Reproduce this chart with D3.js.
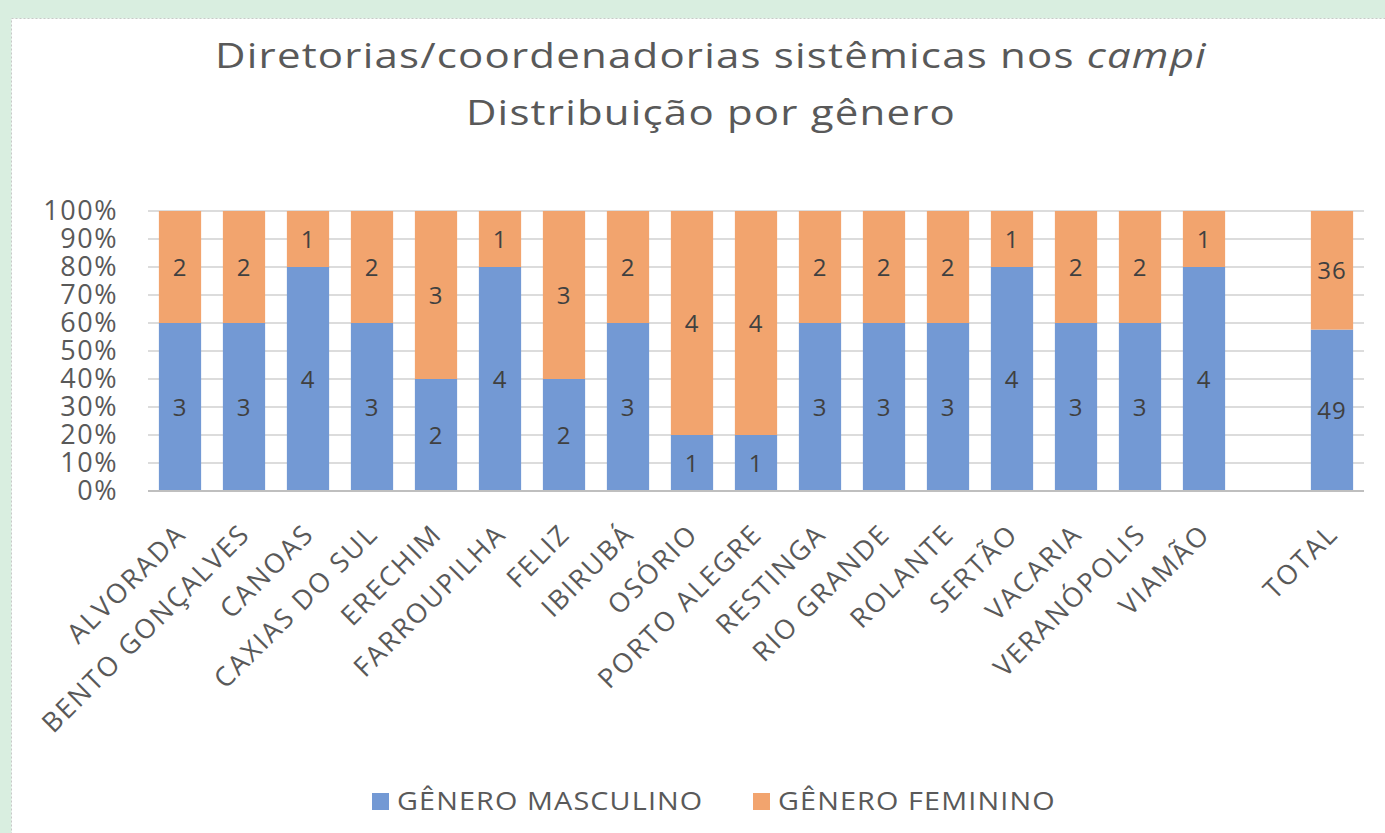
<!DOCTYPE html>
<html>
<head>
<meta charset="utf-8">
<script src="https://cdn.jsdelivr.net/npm/d3@7"></script>
<style>
  body { margin: 0; background: #d9eee0; }
  svg { display: block; }
</style>
</head>
<body>
<svg id="chart"></svg>
<script>
const width = 1385;
const height = 833;

// data
const campi = ["ALVORADA", "BENTO GONÇALVES", "CANOAS", "CAXIAS DO SUL", "ERECHIM",
  "FARROUPILHA", "FELIZ", "IBIRUBÁ", "OSÓRIO", "PORTO ALEGRE", "RESTINGA",
  "RIO GRANDE", "ROLANTE", "SERTÃO", "VACARIA", "VERANÓPOLIS", "VIAMÃO", "", "TOTAL"];
const masculino = [3, 3, 4, 3, 2, 4, 2, 3, 1, 1, 3, 3, 3, 4, 3, 3, 4, null, 49];
const feminino  = [2, 2, 1, 2, 3, 1, 3, 2, 4, 4, 2, 2, 2, 1, 2, 2, 1, null, 36];
const series = ["GÊNERO MASCULINO", "GÊNERO FEMININO"];
const yTicks = [0, 0.1, 0.2, 0.3, 0.4, 0.5, 0.6, 0.7, 0.8, 0.9, 1];
const colors = ['#7399d4', '#f2a46e'];

const svg = d3.select('#chart').attr('width', width).attr('height', height);

// chart area
svg.append('rect')
  .attr('x', 11.5).attr('y', 18.5)
  .attr('width', width).attr('height', height)
  .attr('fill', '#fff')
  .attr('stroke', '#c8c8c8')
  .attr('stroke-dasharray', '2,2');

const font = "'Open Sans', 'Noto Sans', sans-serif";

// title (stretched a little, like the source)
const title = svg.append('text')
  .attr('transform', 'translate(711,68) scale(1.2,1)')
  .attr('text-anchor', 'middle')
  .style('font-family', font).style('font-size', '35px')
  .style('letter-spacing', '1px')
  .style('fill', '#595959');
title.append('tspan').text('Diretorias/coordenadorias sistêmicas nos ');
title.append('tspan').style('font-style', 'italic').text('campi');
svg.append('text')
  .attr('transform', 'translate(711,125) scale(1.2,1)')
  .attr('text-anchor', 'middle')
  .style('font-family', font).style('font-size', '35px')
  .style('letter-spacing', '1px')
  .style('fill', '#595959')
  .text('Distribuição por gênero');

const margin = { left: 148, right: 21, top: 211, bottom: 342 };
const x = d3.scaleBand()
  .domain(d3.range(campi.length))
  .range([margin.left, width - margin.right])
  .paddingInner(0.34).paddingOuter(0.17);
const y = d3.scaleLinear().domain([0, 1]).range([height - margin.bottom, margin.top]);

// gridlines
svg.append('g').selectAll('line')
  .data(yTicks.slice(1))
  .join('line')
  .attr('x1', margin.left).attr('x2', width - margin.right)
  .attr('y1', d => y(d)).attr('y2', d => y(d))
  .attr('stroke', '#dcdcdc').attr('stroke-width', 2);

// y axis labels
const yAxis = svg.append('g')
  .attr('transform', `translate(${margin.left - 30},0)`)
  .call(d3.axisLeft(y).tickValues(yTicks).tickFormat(d3.format('.0%')).tickSize(0).tickPadding(0));
yAxis.select('.domain').remove();
yAxis.selectAll('text')
  .style('font-family', font).style('font-size', '27px')
  .style('letter-spacing', '1.5px')
  .style('fill', '#595959');

// stacked data
const rows = campi.map((c, i) => ({ i, m: masculino[i], f: feminino[i] }))
  .filter(d => d.m !== null);

rows.forEach(d => {
  const t = d.m + d.f;
  d.parts = [
    { k: 0, v: d.m, y0: 0, y1: d.m / t },
    { k: 1, v: d.f, y0: d.m / t, y1: 1 }
  ];
});

const bars = svg.append('g').selectAll('g')
  .data(rows)
  .join('g');

bars.selectAll('rect')
  .data(d => d.parts.map(p => ({ ...p, i: d.i })))
  .join('rect')
  .attr('x', d => x(d.i))
  .attr('width', x.bandwidth())
  .attr('y', d => y(d.y1))
  .attr('height', d => y(d.y0) - y(d.y1))
  .attr('fill', d => colors[d.k]);

bars.selectAll('text')
  .data(d => d.parts.map(p => ({ ...p, i: d.i })))
  .join('text')
  .attr('x', d => x(d.i) + x.bandwidth() / 2)
  .attr('y', d => y((d.y0 + d.y1) / 2))
  .attr('dy', '0.36em')
  .attr('text-anchor', 'middle')
  .style('font-family', font).style('font-size', '24px')
  .style('letter-spacing', '1px')
  .style('fill', '#404040')
  .text(d => d.v);

// baseline
svg.append('line')
  .attr('x1', margin.left).attr('x2', width - margin.right)
  .attr('y1', y(0)).attr('y2', y(0))
  .attr('stroke', '#bfbfbf').attr('stroke-width', 2);

// x labels
svg.append('g').selectAll('text')
  .data(campi.map((c, i) => ({ c, i })).filter(d => d.c))
  .join('text')
  .attr('transform', d => `translate(${x(d.i) + x.bandwidth() / 2 + 1},${y(0) + 38}) rotate(-45)`)
  .attr('text-anchor', 'end')
  .attr('dy', '0.35em')
  .style('font-family', font).style('font-size', '27px')
  .style('letter-spacing', '2px')
  .style('fill', '#595959')
  .text(d => d.c);

// legend
const legend = svg.append('g').selectAll('g')
  .data(series)
  .join('g')
  .attr('transform', (d, i) => `translate(${[372, 753][i]},801)`);
legend.append('rect')
  .attr('x', 0).attr('y', -8).attr('width', 17).attr('height', 17)
  .attr('fill', (d, i) => colors[i]);
legend.append('text')
  .attr('transform', 'translate(25,0) scale(1.15,1)')
  .attr('dy', '0.36em')
  .style('font-family', font).style('font-size', '25px')
  .style('letter-spacing', '1px')
  .style('fill', '#595959')
  .text(d => d);
</script>
</body>
</html>
